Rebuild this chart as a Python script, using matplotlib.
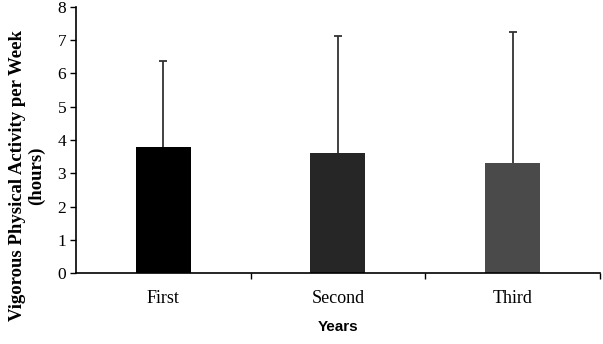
import matplotlib
matplotlib.use("Agg")
import matplotlib.pyplot as plt
import numpy as np

categories = ["First", "Second", "Third"]
means = [3.80, 3.60, 3.30]
sds = [2.58, 3.54, 3.94]
colors = ["#000000", "#262626", "#4a4a4a"]
yticks = [0, 1, 2, 3, 4, 5, 6, 7, 8]

fig = plt.figure(figsize=(6.03, 3.44), dpi=100)
ax = fig.add_axes([0.126, 0.206, 0.869, 0.774])

x = np.arange(len(categories))
ax.bar(x, means, width=0.315, color=colors, zorder=2)
eb = ax.errorbar(x, means, yerr=[np.zeros(len(sds)), sds], fmt="none",
                 ecolor="#333333", elinewidth=1.3, capsize=3, capthick=1.3, zorder=3)
caplines = eb[1]
if len(caplines) == 2:
    caplines[0].set_visible(False)

ax.set_xlim(-0.5, 2.5)
ax.set_ylim(0, 8)
ax.set_yticks(yticks)
ax.set_yticklabels([str(t) for t in yticks], fontfamily="Liberation Serif", fontsize=12.5)
ax.set_xticks(x)
ax.set_xticklabels(categories, fontfamily="Liberation Serif", fontsize=13)
ax.tick_params(axis="x", which="major", length=0, pad=12)
ax.set_xticks([0.5, 1.5, 2.5], minor=True)
ax.tick_params(axis="x", which="minor", length=4, width=1, direction="out")
ax.tick_params(axis="y", length=4, width=1, direction="out", pad=3)

for s in ["top", "right"]:
    ax.spines[s].set_visible(False)
for s in ["left", "bottom"]:
    ax.spines[s].set_linewidth(1.2)

ax.set_ylabel("Vigorous Physical Activity per Week\n(hours)", fontfamily="Liberation Serif",
              fontweight="bold", fontsize=13.5, linespacing=1.15)
ax.yaxis.set_label_coords(-0.058, 0.365)
ax.set_xlabel("Years", fontfamily="Liberation Sans", fontweight="bold", fontsize=11)
ax.xaxis.set_label_coords(0.5, -0.175)

fig.savefig("out.png", dpi=100)
